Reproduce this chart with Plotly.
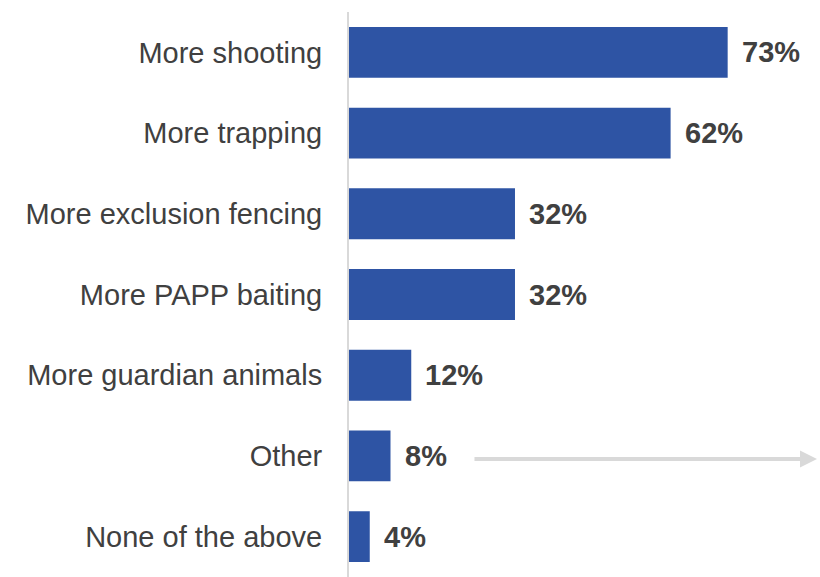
import plotly.graph_objects as go

categories = ["More shooting", "More trapping", "More exclusion fencing", "More PAPP baiting",
              "More guardian animals", "Other", "None of the above"]
values = [73, 62, 32, 32, 12, 8, 4]
value_labels = ["73%", "62%", "32%", "32%", "12%", "8%", "4%"]

BAR = "#2E54A4"
TXT = "#404040"
GRID = "#D9D9D9"
FONT = "Liberation Sans, Arial, sans-serif"

fig = go.Figure()
fig.add_trace(go.Bar(
    y=categories, x=values, orientation="h",
    marker=dict(color=BAR, line=dict(width=0)),
    width=0.63, hoverinfo="skip",
))

for c, v, t in zip(categories, values, value_labels):
    fig.add_annotation(x=v, y=c, text="<b>" + t + "</b>", showarrow=False,
                       xanchor="left", yanchor="middle", xshift=12, yshift=0,
                       font=dict(family=FONT, size=29, color=TXT))

fig.add_annotation(x=0.9936, y="Other", xref="paper", yref="y", yshift=-3,
                   ax=-344, ay=0, axref="pixel", ayref="pixel",
                   showarrow=True, arrowhead=2, arrowsize=0.85, arrowwidth=4,
                   arrowcolor=GRID, standoff=0, text="")

fig.update_layout(
    width=820, height=577,
    margin=dict(l=349, r=0, t=12, b=0, autoexpand=False),
    paper_bgcolor="white", plot_bgcolor="white",
    showlegend=False,
    font=dict(family=FONT, size=29, color=TXT),
    xaxis=dict(range=[0, 90.8], visible=False, fixedrange=True),
    yaxis=dict(categoryorder="array", categoryarray=categories,
               showline=True, linecolor=GRID, linewidth=2,
               showgrid=False, zeroline=False, ticks="", ticklabelstandoff=19,
               tickfont=dict(family=FONT, size=29, color=TXT), fixedrange=True),
)
fig.update_yaxes(autorange=False, range=[6.5, -0.5])

fig.write_html("out.html", config={"displayModeBar": False},
               post_script="document.body.style.margin='0';")
